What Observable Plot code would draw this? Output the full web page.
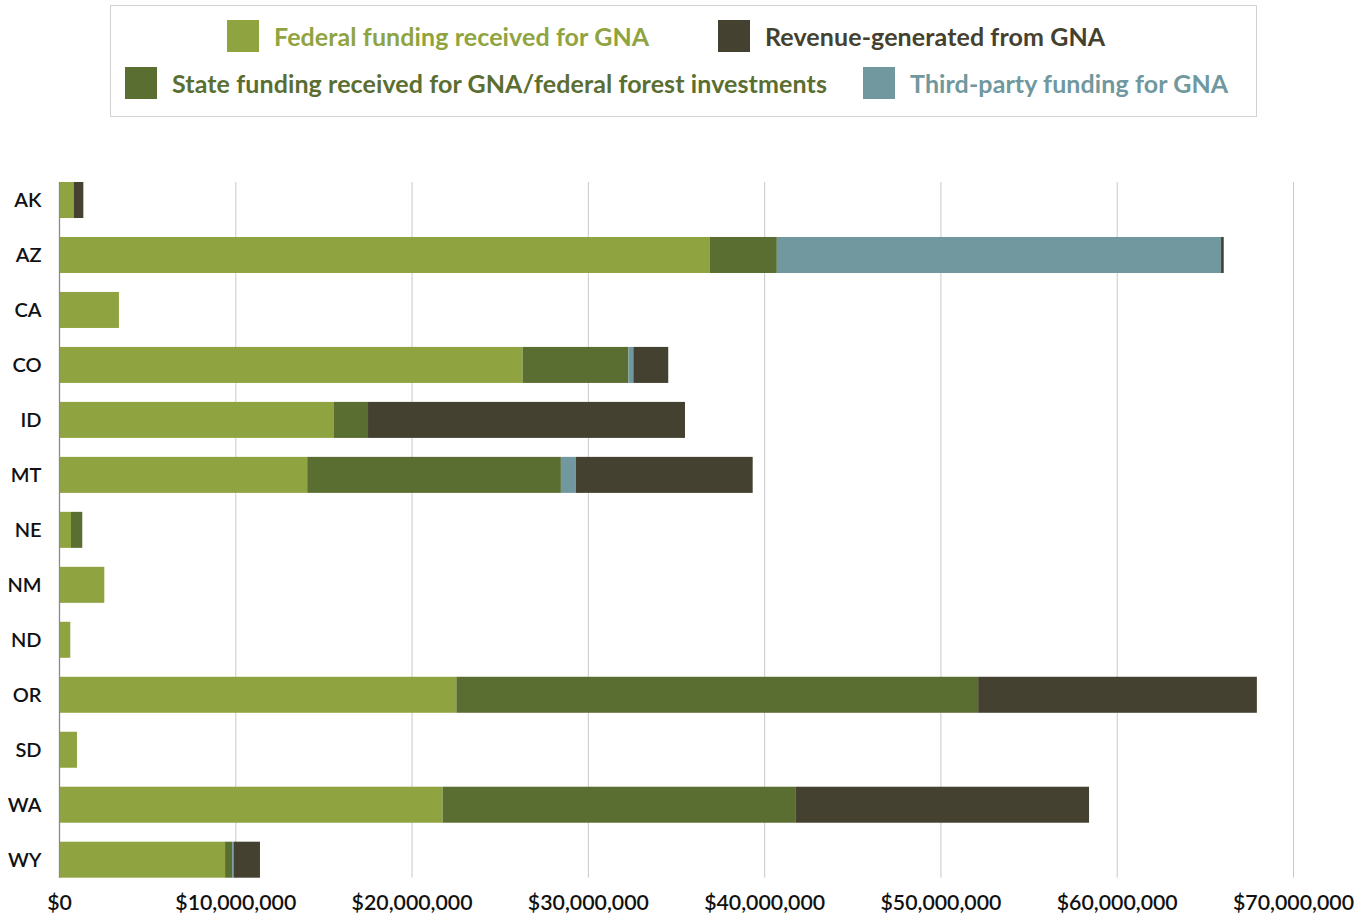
<!DOCTYPE html>
<html>
<head>
<meta charset="utf-8">
<script src="https://cdn.jsdelivr.net/npm/d3@7"></script>
<script src="https://cdn.jsdelivr.net/npm/@observablehq/plot@0.6"></script>
<style>
  html, body { margin: 0; padding: 0; background: #fff; }
  body { width: 1371px; height: 918px; position: relative; overflow: hidden; font-family: "Lato", sans-serif; }
  #legend { position: absolute; left: 110px; top: 5px; width: 1145px; height: 110px; border: 1px solid #d2d2d2; }
  .item { position: absolute; display: flex; align-items: center; height: 32px; }
  .sw { width: 32px; height: 32px; margin-right: 15px; flex: none; }
  .lab { font-size: 25px; font-weight: 700; white-space: nowrap; letter-spacing: 0.1px; }
  #chart { position: absolute; left: 0; top: 125px; }
  #chart svg text { font-weight: 600; }
</style>
</head>
<body>
<div id="legend"></div>
<div id="chart"></div>
<script>
const states = ["AK","AZ","CA","CO","ID","MT","NE","NM","ND","OR","SD","WA","WY"];
const seriesNames = [
  "Federal funding received for GNA",
  "State funding received for GNA/federal forest investments",
  "Third-party funding for GNA",
  "Revenue-generated from GNA"
];
const seriesColors = ["#8fa440", "#5b6e31", "#70989e", "#454130"];
const federal = [830000, 36900000, 3400000, 26300000, 15600000, 14080000, 680000, 2570000, 640000, 22540000, 1020000, 21760000, 9420000];
const stateFunding = [0, 3820000, 0, 6000000, 1930000, 14390000, 640000, 0, 0, 29600000, 0, 20040000, 400000];
const thirdParty = [0, 25200000, 0, 280000, 0, 850000, 0, 0, 0, 0, 0, 0, 80000];
const revenue = [550000, 150000, 0, 1980000, 17980000, 10030000, 0, 0, 0, 15810000, 0, 16630000, 1500000];
const xTicks = [0, 10000000, 20000000, 30000000, 40000000, 50000000, 60000000, 70000000];

const seriesValues = [federal, stateFunding, thirdParty, revenue];
const rows = [];
states.forEach((s, i) => {
  seriesNames.forEach((name, k) => {
    rows.push({state: s, source: name, value: seriesValues[k][i]});
  });
});

// Legend (HTML, above the SVG)
const legendItems = [
  {k: 0, left: 116, top: 14},
  {k: 3, left: 607, top: 14},
  {k: 1, left: 14, top: 61},
  {k: 2, left: 752, top: 61}
];
const legend = document.getElementById("legend");
legendItems.forEach(({k, left, top}) => {
  const it = document.createElement("div");
  it.className = "item";
  it.style.left = left + "px";
  it.style.top = top + "px";
  const sw = document.createElement("div");
  sw.className = "sw";
  sw.style.background = seriesColors[k];
  const lab = document.createElement("div");
  lab.className = "lab";
  lab.style.color = seriesColors[k];
  lab.textContent = seriesNames[k];
  it.appendChild(sw);
  it.appendChild(lab);
  legend.appendChild(it);
});

const chart = Plot.plot({
  width: 1371,
  height: 793,
  marginTop: 57,
  marginBottom: 40.3,
  marginLeft: 59,
  marginRight: 78,
  style: {fontFamily: "Lato, sans-serif", fontSize: "20px", color: "#111", background: "#fff"},
  x: {domain: [0, 70000000]},
  y: {domain: states, paddingInner: 0.345, paddingOuter: 0, align: 0.5, round: false},
  color: {domain: seriesNames, range: seriesColors},
  marks: [
    Plot.gridX(xTicks, {stroke: "#c9c9c9", strokeOpacity: 1, strokeWidth: 1}),
    Plot.barX(rows, Plot.stackX({y: "state", x: "value", fill: "source", order: seriesNames})),
    Plot.ruleX([0], {stroke: "#8a8a8a", strokeWidth: 1.3}),
    Plot.axisX(xTicks, {tickSize: 0, tickPadding: 17, tickFormat: d3.format("$,"), label: null, fontSize: 21.3, fill: "#111"}),
    Plot.axisY({tickSize: 0, tickPadding: 18, label: null, fontSize: 20, fill: "#111"})
  ]
});
document.getElementById("chart").appendChild(chart);
</script>
</body>
</html>
